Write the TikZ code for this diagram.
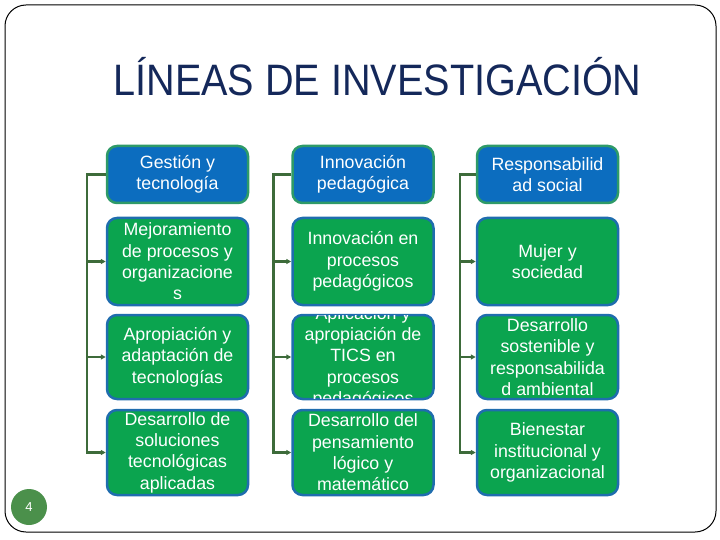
\documentclass[tikz,border=0pt]{standalone}
\usepackage{fontspec}
\setmainfont{Liberation Sans}
\usetikzlibrary{arrows.meta}
\definecolor{titlecol}{HTML}{14285A}
\definecolor{boxblue}{HTML}{0C6DBF}
\definecolor{hborder}{HTML}{2E9A68}
\definecolor{boxgreen}{HTML}{0BA44F}
\definecolor{gborder}{HTML}{1F6DAE}
\definecolor{conncol}{HTML}{3D6B3A}
\definecolor{pgcol}{HTML}{4B904B}
\newcommand\cliptext[3]{%
  \begin{scope}
    \clip ([shift={(2pt,2pt)}]#1.south west) rectangle ([shift={(-2pt,-2pt)}]#1.north east);
    \node[txt] (#2) at (#1) {#3};
  \end{scope}}
\begin{document}
\begin{tikzpicture}[x=1pt,y=-1pt,
  hbox/.style={rectangle, rounded corners=10pt, fill=boxblue, draw=hborder, line width=2.5pt, minimum width=141pt, inner sep=0pt},
  gbox/.style={rectangle, rounded corners=10pt, fill=boxgreen, draw=gborder, line width=2.5pt, minimum width=141pt, inner sep=0pt},
  txt/.style={text=white, font=\fontsize{17.8}{21.3}\selectfont, align=center, inner sep=0pt},
  conn/.style={draw=conncol, line width=2.5pt},
  arr/.style={conn, -{Triangle[length=5pt,width=5pt]}}]
\useasboundingbox (0,0) rectangle (720,540);
\draw[line width=1pt, rounded corners=21pt] (5,5) rectangle (716,532);
\node[text=titlecol, font=\fontsize{44}{50}\selectfont, xscale=0.9, inner sep=0pt, anchor=base] (title) at (377.5,96) {LÍNEAS DE INVESTIGACIÓN};
% column 1
\node[hbox, minimum height=57pt] (a1) at (177.5,174.5) {};
\node[gbox, minimum height=87pt] (a2) at (177.5,261.5) {};
\node[gbox, minimum height=84pt] (a3) at (177.5,357) {};
\node[gbox, minimum height=85pt] (a4) at (177.5,452.5) {};
% column 2
\node[hbox, minimum height=57pt] (b1) at (363,174.5) {};
\node[gbox, minimum height=87pt] (b2) at (363,261.5) {};
\node[gbox, minimum height=84pt] (b3) at (363,357) {};
\node[gbox, minimum height=85pt] (b4) at (363,452.5) {};
% column 3
\node[hbox, minimum height=57pt] (c1) at (547.5,174.5) {};
\node[gbox, minimum height=87pt] (c2) at (547.5,261.5) {};
\node[gbox, minimum height=84pt] (c3) at (547.5,357) {};
\node[gbox, minimum height=85pt] (c4) at (547.5,452.5) {};
% texts
\cliptext{a1}{ta1}{Gestión y\\tecnología}
\cliptext{a2}{ta2}{Mejoramiento\\de procesos y\\organizacione\\s}
\cliptext{a3}{ta3}{Apropiación y\\adaptación de\\tecnologías}
\cliptext{a4}{ta4}{Desarrollo de\\soluciones\\tecnológicas\\aplicadas}
\cliptext{b1}{tb1}{Innovación\\pedagógica}
\cliptext{b2}{tb2}{Innovación en\\procesos\\pedagógicos}
\cliptext{b3}{tb3}{Aplicación y\\apropiación de\\TICS en\\procesos\\pedagógicos}
\cliptext{b4}{tb4}{Desarrollo del\\pensamiento\\lógico y\\matemático}
\cliptext{c1}{tc1}{Responsabilid\\ad social}
\cliptext{c2}{tc2}{Mujer y\\sociedad}
\cliptext{c3}{tc3}{Desarrollo\\sostenible y\\responsabilida\\d ambiental}
\cliptext{c4}{tc4}{Bienestar\\institucional y\\organizacional}
% connectors
\foreach \c/\d in {a/19pt, b/18pt, c/16pt}{
  \foreach \r in {2,3,4}{
    \draw[arr] (\c1.west) -- ++(-\d,0) |- (\c\r.west);
  }
}
% page number
\node[circle, fill=pgcol, minimum size=36pt, inner sep=0pt, text=white, font=\fontsize{13}{15}\selectfont] (pg) at (29,507) {4};
\end{tikzpicture}
\end{document}
